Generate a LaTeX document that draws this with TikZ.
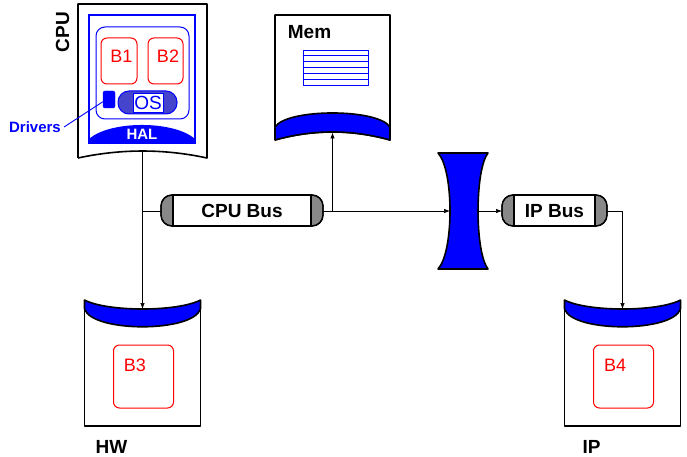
\documentclass[tikz,border=0pt]{standalone}
\usepackage{fontspec}
\setmainfont{Liberation Sans}
\usetikzlibrary{calc,arrows.meta}
\definecolor{chanBlue}{RGB}{0,0,255}
\definecolor{osBlue}{RGB}{68,68,204}
\definecolor{capGray}{RGB}{136,136,136}
\definecolor{blkRed}{RGB}{255,0,0}
\tikzset{
  outline/.style={draw=black,line width=1.6pt,line join=round},
  redblock/.style={draw=blkRed,rounded corners=6pt,line width=1pt,inner sep=0pt},
  redtext/.style={text=blkRed,font=\fontsize{18}{20}\selectfont,inner sep=0pt},
  boldlabel/.style={font=\bfseries\fontsize{19}{21}\selectfont,inner sep=0pt},
  link/.style={line width=0.7pt,-{Latex[length=6pt,width=4.5pt]}},
  wire/.style={line width=0.7pt},
}
% module with a cup-shaped port on top: name, left x, block text, title
\newcommand{\CupModule}[4]{%
  \draw[outline] (#2,300) -- (#2,426) -- ({#2+116},426) -- ({#2+116},300);
  \draw[outline,fill=chanBlue] (#2,300) .. controls ({#2+23},312) and ({#2+93},312) .. ({#2+116},300)
    -- ({#2+116},309) .. controls ({#2+108},332.7) and ({#2+8},332.7) .. (#2,309) -- cycle;
  \coordinate (#1-port) at ({#2+58},309);
  \node[redblock,minimum width=60pt,minimum height=63pt] (#1-blk) at ({#2+59},376.5) {};
  \node[redtext] (#1-txt) at ({#2+50.5},365) {#3};
  \node[boldlabel] (#1-title) at ({#2+27},447) {#4};
}
% bus with grey end caps: name, left x, right x, label
\newcommand{\BusPill}[4]{%
  \draw[outline,line width=1.3pt,fill=capGray,rounded corners=11pt] (#2,195) rectangle (#3,226);
  \draw[line width=1.3pt,fill=white] ({#2+12},195) rectangle ({#3-12},226);
  \draw[outline,line width=1.3pt,rounded corners=11pt] (#2,195) rectangle (#3,226);
  \node[boldlabel] (#1) at ({(#2+#3)/2},211) {#4};
  \coordinate (#1-w) at (#2,211);
  \coordinate (#1-e) at (#3,211);
}

\begin{document}
\begin{tikzpicture}[x=1pt,y=-1pt]
\useasboundingbox (0,0) rectangle (687,457);

% CPU
\draw[outline,fill=white] (78,158) -- (78,4) -- (207,4) -- (207,158) .. controls (164,148.7) and (121,148.7) .. (78,158);
\coordinate (cpu-port) at (142.5,151);
\node[boldlabel,rotate=90] (cpulabel) at (62.5,32) {CPU};
\draw[chanBlue,line width=1.5pt] (89,15) rectangle (195,143);
\fill[chanBlue] (89,139) .. controls (110,120.3) and (174,120.3) .. (195,139) -- (195,143) -- (89,143) -- cycle;
\node[text=white,font=\bfseries\fontsize{15}{17}\selectfont,inner sep=0pt] (hal) at (142,134) {HAL};
\draw[chanBlue,line width=1pt,rounded corners=9pt] (96,27) rectangle (189,119);
\node[redblock,minimum width=36pt,minimum height=46pt] (b1-blk) at (119,61) {};
\node[redtext] (b1) at (121.5,56.5) {B1};
\node[redblock,minimum width=35pt,minimum height=46pt] (b2-blk) at (165.5,61) {};
\node[redtext] (b2) at (168,56.5) {B2};
\node[draw=chanBlue,fill=chanBlue,rounded corners=2pt,minimum width=12pt,minimum height=17pt,inner sep=0pt] (drv) at (109,99.5) {};
\node[draw=chanBlue,fill=osBlue,line width=1pt,rounded corners=11pt,minimum width=59pt,minimum height=23pt,inner sep=0pt] (ospill) at (147.5,102.5) {};
\node[draw=chanBlue,fill=white,minimum width=30pt,minimum height=19pt,inner sep=0pt,text=chanBlue,font=\fontsize{19}{21}\selectfont] (os) at (148,102.5) {OS};
\node[text=chanBlue,font=\bfseries\fontsize{15}{17}\selectfont,inner sep=0pt] (drvlabel) at (35,127) {Drivers};
\draw[chanBlue,line width=0.9pt] ([xshift=3pt]drvlabel.east) -- (drv.200);

% memory
\draw[outline,fill=white] (275,140) -- (275,15) -- (390,15) -- (390,140) .. controls (351.7,129.3) and (313.3,129.3) .. (275,140);
\draw[outline,fill=chanBlue] (275,127) .. controls (287,108.3) and (378,108.3) .. (390,127) -- (390,140) .. controls (351.7,129.3) and (313.3,129.3) .. (275,140) -- cycle;
\coordinate (mem-port) at (332.5,132.5);
\node[boldlabel] (memlabel) at (309.5,32.5) {Mem};
\node[draw=chanBlue,line width=0.8pt,minimum width=65pt,minimum height=35pt,inner sep=0pt] (memarray) at (335.5,67.5) {};
\foreach \k in {1,...,5}
  \draw[chanBlue,line width=0.6pt] ($(memarray.north west)!\k/6!(memarray.south west)$) -- ($(memarray.north east)!\k/6!(memarray.south east)$);

% buses and bridge
\BusPill{cpubus}{161}{323}{CPU Bus}
\BusPill{ipbus}{502}{607}{IP Bus}
\draw[outline,fill=chanBlue] (438,153) -- (488,153) .. controls (474.7,170) and (474.7,252) .. (488,269) -- (438,269) .. controls (454,252) and (454,170) .. (438,153) -- cycle;
\coordinate (lens-w) at (450,211);
\coordinate (lens-e) at (478,211);

% HW and IP
\CupModule{hw}{84.5}{B3}{HW}
\CupModule{ip}{564.5}{B4}{IP}

% connections
\coordinate (fork) at (cpubus-e -| mem-port);
\draw[link] (cpu-port) -- (hw-port);
\draw[wire] (cpu-port |- cpubus-w) -- (cpubus-w);
\draw[wire] (cpubus-e) -- (fork);
\draw[link] (fork) -- (mem-port);
\draw[link] (fork) -- (lens-w);
\draw[link] (lens-e) -- (ipbus-w);
\draw[wire] (ipbus-e) -- (ipbus-e -| ip-port);
\draw[link] (ipbus-e -| ip-port) -- (ip-port);
\end{tikzpicture}
\end{document}
